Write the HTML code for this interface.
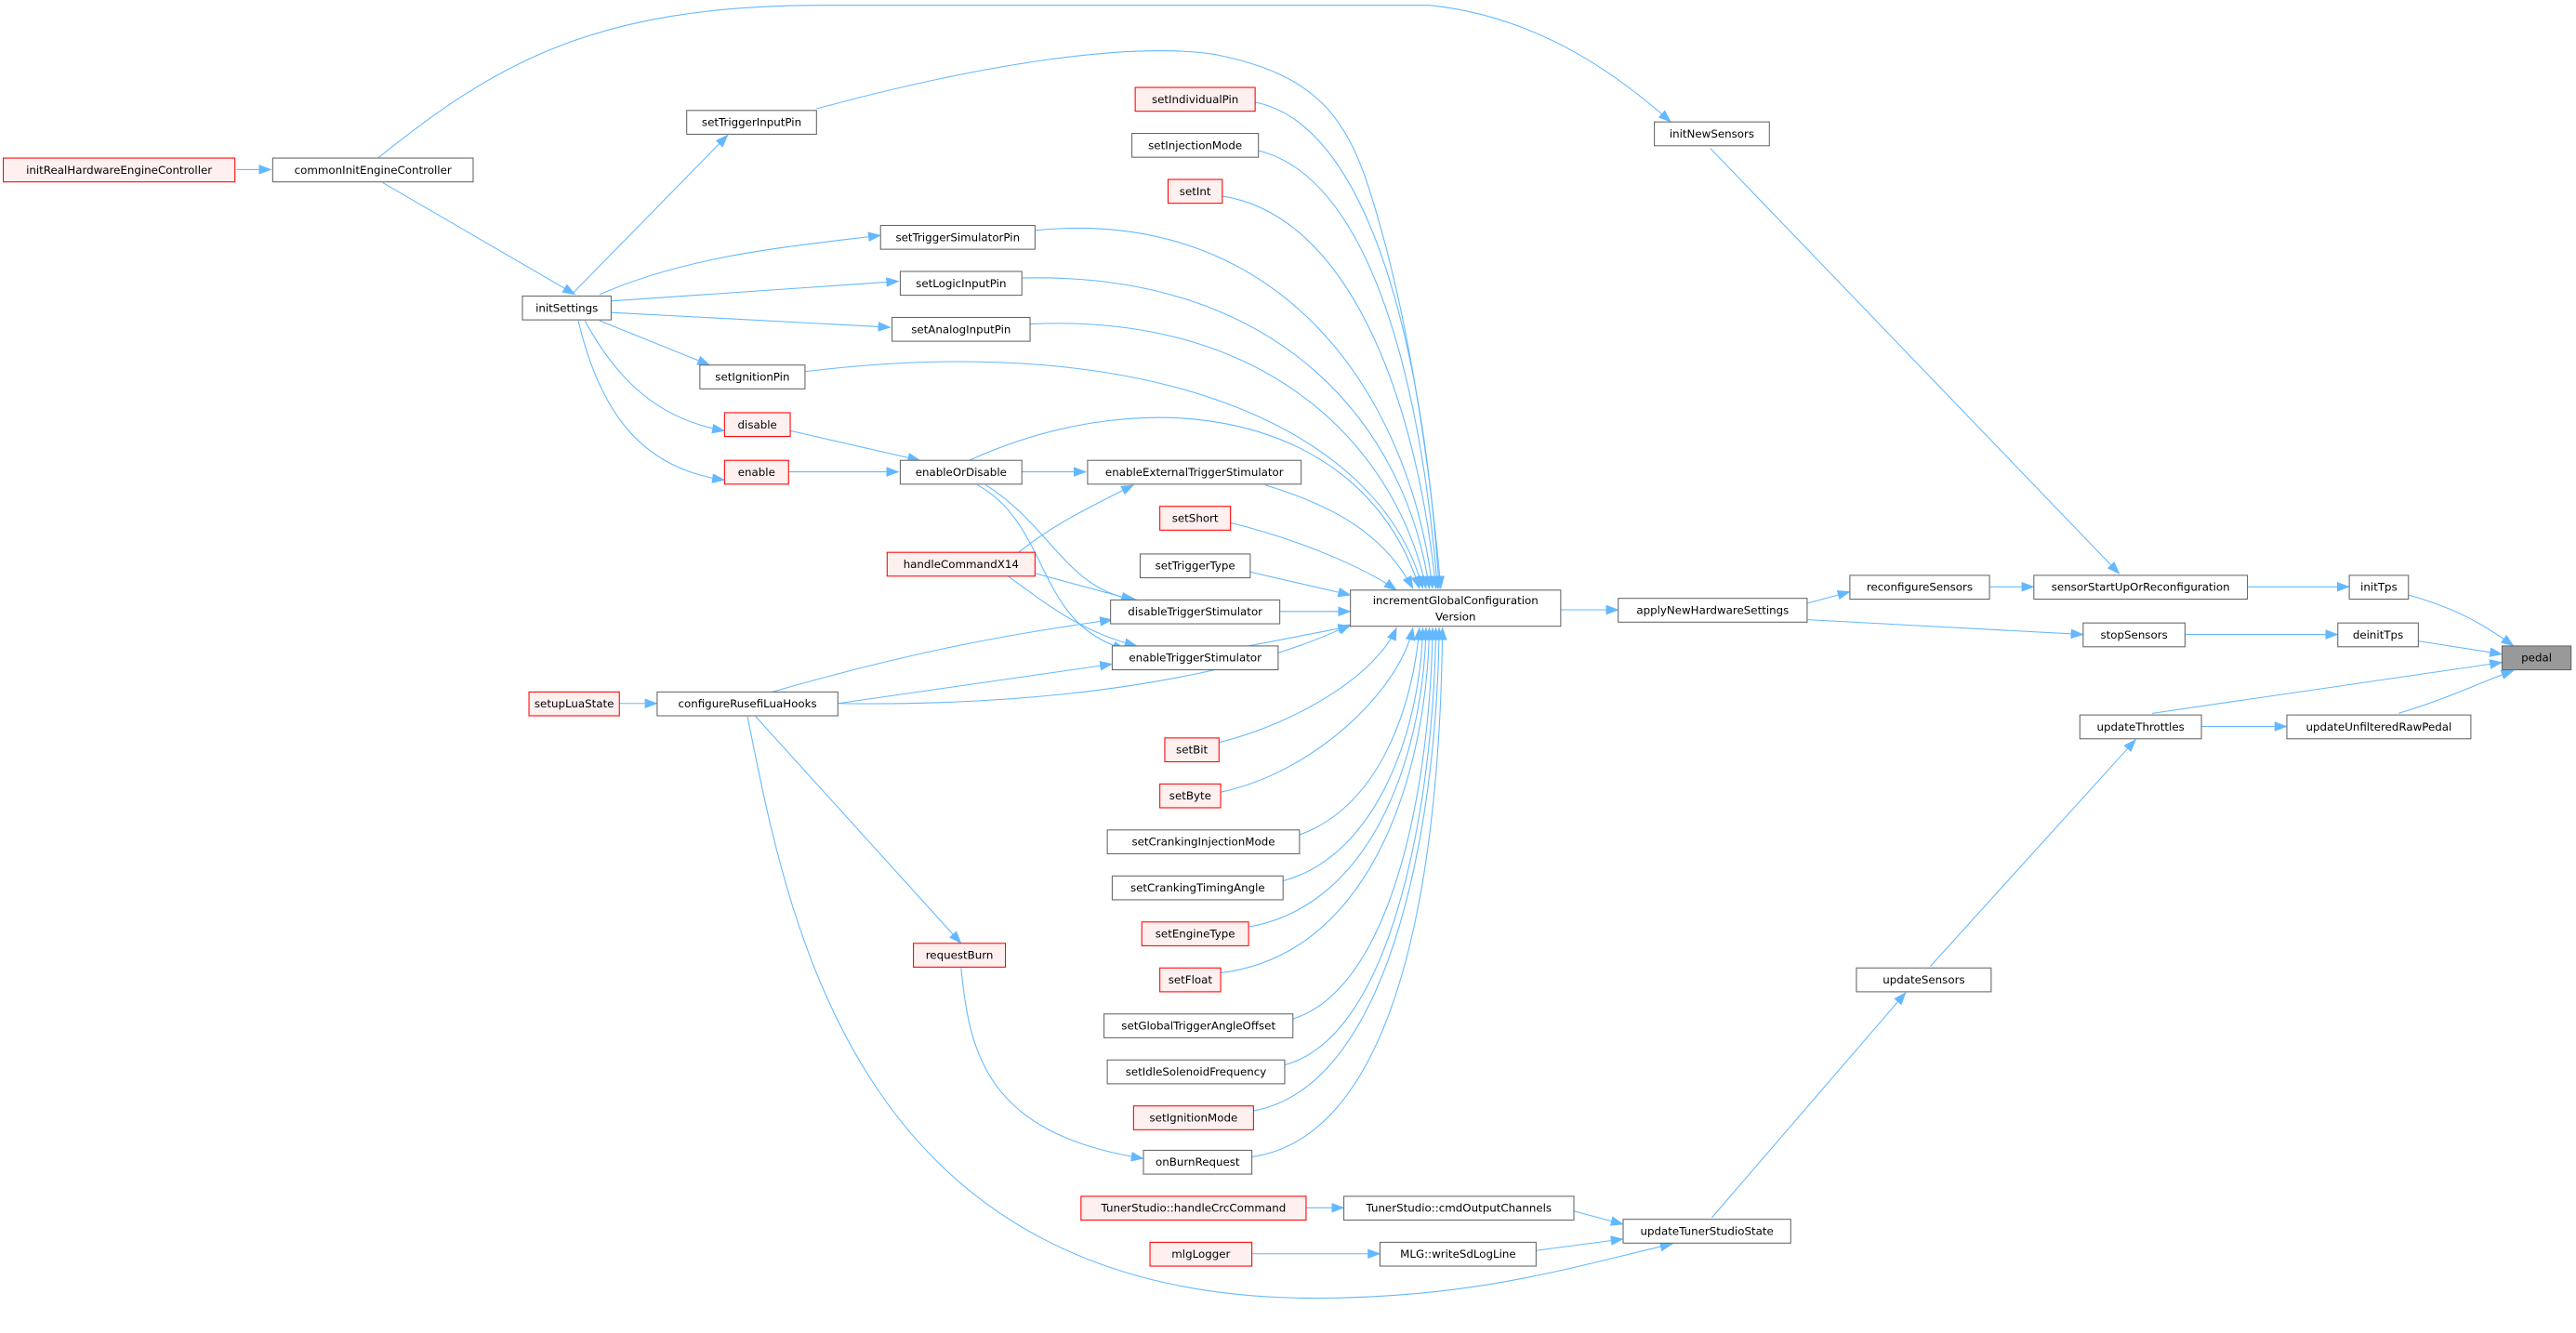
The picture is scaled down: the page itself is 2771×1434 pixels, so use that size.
<!DOCTYPE html>
<html><head><meta charset="utf-8"><style>
html,body{margin:0;padding:0;background:#fff;}
svg{display:block;}
text{font-family:"DejaVu Sans","Liberation Sans",sans-serif;font-size:6.7px;fill:#000;text-anchor:middle;}
.n{fill:#fff;stroke:#666;stroke-width:0.6;}
.r{fill:#fff0f0;stroke:#f00;stroke-width:0.6;}
.g{fill:#999;stroke:#666;stroke-width:0.6;}
.e{fill:none;stroke:#63b8ff;stroke-width:0.6;marker-end:url(#a);}
</style></head><body>
<svg width="2771" height="1434" viewBox="0 0 1568 811" xmlns="http://www.w3.org/2000/svg">
<defs><marker id="a" markerUnits="userSpaceOnUse" markerWidth="8" markerHeight="6" refX="7.5" refY="3" orient="auto"><path d="M0,0 L8,3 L0,6 z" fill="#63b8ff"/></marker></defs>
<g>
<path class="e" d="M144,103 L165,103"/>
<path class="e" d="M230,96 C300,40 360,3 500,3 L870,3 C940,10 990,50 1017,74"/>
<path class="e" d="M233,111 L350,179"/>
<path class="e" d="M348,179 L443,82"/>
<path class="e" d="M365,179 C420,155 480,150 536,143"/>
<path class="e" d="M372,183 L547,171"/>
<path class="e" d="M372,190 L542,199"/>
<path class="e" d="M365,195 L432,222"/>
<path class="e" d="M356,195 C375,230 400,255 441,262"/>
<path class="e" d="M352,195 C365,250 390,285 441,292"/>
<path class="e" d="M481,262 L560,280"/>
<path class="e" d="M480,287 L547,287"/>
<path class="e" d="M622,287 L661,287"/>
<path class="e" d="M600,295 C640,320 650,360 692,365"/>
<path class="e" d="M595,295 C640,320 630,380 685,395"/>
<path class="e" d="M620,336 C640,320 660,310 690,295"/>
<path class="e" d="M627,348 L690,365"/>
<path class="e" d="M613,350 C640,370 660,385 692,393"/>
<path class="e" d="M470,421 C560,395 620,385 677,377"/>
<path class="e" d="M510,428 L677,404"/>
<path class="e" d="M510,428 C650,430 760,410 822,380"/>
<path class="e" d="M377,428 L400,428"/>
<path class="e" d="M460,436 L585,574"/>
<path class="e" d="M585,589 C590,640 600,690 696,705"/>
<path class="e" d="M455,436 C480,560 520,790 800,790 C900,790 960,770 1018,757"/>
<path class="e" d="M958,737 L988,745"/>
<path class="e" d="M935,761 L988,754"/>
<path class="e" d="M795,735 L818,735"/>
<path class="e" d="M762,763 L840,763"/>
<path class="e" d="M1042,741 L1160,604"/>
<path class="e" d="M1175,588 L1300,450"/>
<path class="e" d="M1340,442 L1392,442"/>
<path class="e" d="M1310,434 L1523,403"/>
<path class="e" d="M1460,434 C1490,425 1510,415 1530,408"/>
<path class="e" d="M1466,362 C1495,370 1512,380 1530,393"/>
<path class="e" d="M1472,390 L1523,398"/>
<path class="e" d="M1330,386 L1423,386"/>
<path class="e" d="M1368,357 L1430,357"/>
<path class="e" d="M1211,357 L1238,357"/>
<path class="e" d="M1041,90 L1290,349"/>
<path class="e" d="M1100,367 L1126,360"/>
<path class="e" d="M1100,377 L1268,386"/>
<path class="e" d="M950,371 L985,371"/>
<path class="e" d="M497,66 C600,38 690,25 740,33 C800,45 820,70 835,120 C860,200 872,300 877,358"/>
<path class="e" d="M764,62 C830,75 866,200 876,358"/>
<path class="e" d="M764,91 C830,105 864,220 875,358"/>
<path class="e" d="M743,119 C820,130 862,240 874,358"/>
<path class="e" d="M630,140 C780,125 858,240 872,358"/>
<path class="e" d="M622,169 C780,165 856,260 870,358"/>
<path class="e" d="M627,197 C780,190 852,280 868,358"/>
<path class="e" d="M490,226 C700,200 840,260 866,358"/>
<path class="e" d="M590,280 C700,230 830,250 864,358"/>
<path class="e" d="M770,295 C820,310 845,330 860,358"/>
<path class="e" d="M749,318 C790,328 830,345 850,359"/>
<path class="e" d="M761,348 L822,362"/>
<path class="e" d="M779,372 L822,372"/>
<path class="e" d="M760,393 L822,381"/>
<path class="e" d="M741,452 C790,440 838,410 850,382"/>
<path class="e" d="M743,482 C800,470 852,420 860,382"/>
<path class="e" d="M791,508 C840,490 860,430 864,382"/>
<path class="e" d="M781,536 C840,520 865,440 866,382"/>
<path class="e" d="M760,564 C840,550 867,450 868,382"/>
<path class="e" d="M743,592 C840,580 869,460 870,382"/>
<path class="e" d="M787,620 C850,600 871,470 872,382"/>
<path class="e" d="M782,648 C850,630 873,480 874,382"/>
<path class="e" d="M763,676 C850,660 875,490 876,382"/>
<path class="e" d="M762,704 C860,690 877,500 878,382"/>
</g>
<g>
<rect class="r" x="2" y="96" width="141" height="14.5"/><text x="72.5" y="105.5">initRealHardwareEngineController</text>
<rect class="n" x="166" y="96" width="122" height="14.5"/><text x="227" y="105.5">commonInitEngineController</text>
<rect class="n" x="318" y="180" width="54" height="14.5"/><text x="345" y="189.5">initSettings</text>
<rect class="n" x="418" y="67" width="79" height="14.5"/><text x="457.5" y="76.5">setTriggerInputPin</text>
<rect class="r" x="691" y="53" width="73" height="14.5"/><text x="727.5" y="62.5">setIndividualPin</text>
<rect class="n" x="689" y="81" width="77" height="14.5"/><text x="727.5" y="90.5">setInjectionMode</text>
<rect class="r" x="711" y="109" width="33" height="14.5"/><text x="727.5" y="118.5">setInt</text>
<rect class="n" x="536" y="137" width="94" height="14.5"/><text x="583" y="146.5">setTriggerSimulatorPin</text>
<rect class="n" x="548" y="165" width="74" height="14.5"/><text x="585" y="174.5">setLogicInputPin</text>
<rect class="n" x="543" y="193" width="84" height="14.5"/><text x="585" y="202.5">setAnalogInputPin</text>
<rect class="n" x="426" y="222" width="64" height="14.5"/><text x="458" y="231.5">setIgnitionPin</text>
<rect class="r" x="441" y="251" width="40" height="14.5"/><text x="461" y="260.5">disable</text>
<rect class="r" x="441" y="280" width="39" height="14.5"/><text x="460.5" y="289.5">enable</text>
<rect class="n" x="548" y="280" width="74" height="14.5"/><text x="585" y="289.5">enableOrDisable</text>
<rect class="n" x="662" y="280" width="130" height="14.5"/><text x="727" y="289.5">enableExternalTriggerStimulator</text>
<rect class="r" x="706" y="308" width="43" height="14.5"/><text x="727.5" y="317.5">setShort</text>
<rect class="n" x="694" y="337" width="67" height="14.5"/><text x="727.5" y="346.5">setTriggerType</text>
<rect class="r" x="540" y="336" width="90" height="14.5"/><text x="585" y="345.5">handleCommandX14</text>
<rect class="n" x="822" y="359" width="128" height="22"/><text x="886" y="367.5">incrementGlobalConfiguration</text><text x="886" y="377.5">Version</text>
<rect class="n" x="676" y="365" width="103" height="14.5"/><text x="727.5" y="374.5">disableTriggerStimulator</text>
<rect class="n" x="677" y="393" width="101" height="14.5"/><text x="727.5" y="402.5">enableTriggerStimulator</text>
<rect class="n" x="400" y="421" width="110" height="14.5"/><text x="455" y="430.5">configureRusefiLuaHooks</text>
<rect class="r" x="322" y="421" width="55" height="14.5"/><text x="349.5" y="430.5">setupLuaState</text>
<rect class="r" x="709" y="449" width="33" height="14.5"/><text x="725.5" y="458.5">setBit</text>
<rect class="r" x="706" y="477" width="37" height="14.5"/><text x="724.5" y="486.5">setByte</text>
<rect class="n" x="674" y="505" width="117" height="14.5"/><text x="732.5" y="514.5">setCrankingInjectionMode</text>
<rect class="n" x="677" y="533" width="104" height="14.5"/><text x="729" y="542.5">setCrankingTimingAngle</text>
<rect class="r" x="695" y="561" width="65" height="14.5"/><text x="727.5" y="570.5">setEngineType</text>
<rect class="r" x="706" y="589" width="37" height="14.5"/><text x="724.5" y="598.5">setFloat</text>
<rect class="n" x="672" y="617" width="115" height="14.5"/><text x="729.5" y="626.5">setGlobalTriggerAngleOffset</text>
<rect class="n" x="674" y="645" width="108" height="14.5"/><text x="728" y="654.5">setIdleSolenoidFrequency</text>
<rect class="r" x="690" y="673" width="73" height="14.5"/><text x="726.5" y="682.5">setIgnitionMode</text>
<rect class="n" x="696" y="700" width="66" height="14.5"/><text x="729" y="709.5">onBurnRequest</text>
<rect class="r" x="556" y="574" width="56" height="14.5"/><text x="584" y="583.5">requestBurn</text>
<rect class="r" x="658" y="728" width="137" height="14.5"/><text x="726.5" y="737.5">TunerStudio::handleCrcCommand</text>
<rect class="n" x="818" y="728" width="140" height="14.5"/><text x="888" y="737.5">TunerStudio::cmdOutputChannels</text>
<rect class="r" x="700" y="756" width="62" height="14.5"/><text x="731" y="765.5">mlgLogger</text>
<rect class="n" x="840" y="756" width="95" height="14.5"/><text x="887.5" y="765.5">MLG::writeSdLogLine</text>
<rect class="n" x="988" y="742" width="102" height="14.5"/><text x="1039" y="751.5">updateTunerStudioState</text>
<rect class="n" x="1130" y="589" width="82" height="14.5"/><text x="1171" y="598.5">updateSensors</text>
<rect class="n" x="1266" y="435" width="74" height="14.5"/><text x="1303" y="444.5">updateThrottles</text>
<rect class="n" x="1392" y="435" width="112" height="14.5"/><text x="1448" y="444.5">updateUnfilteredRawPedal</text>
<rect class="n" x="985" y="364" width="115" height="14.5"/><text x="1042.5" y="373.5">applyNewHardwareSettings</text>
<rect class="n" x="1126" y="350" width="85" height="14.5"/><text x="1168.5" y="359.5">reconfigureSensors</text>
<rect class="n" x="1238" y="350" width="130" height="14.5"/><text x="1303" y="359.5">sensorStartUpOrReconfiguration</text>
<rect class="n" x="1268" y="379" width="62" height="14.5"/><text x="1299" y="388.5">stopSensors</text>
<rect class="n" x="1430" y="350" width="36" height="14.5"/><text x="1448" y="359.5">initTps</text>
<rect class="n" x="1423" y="379" width="49" height="14.5"/><text x="1447.5" y="388.5">deinitTps</text>
<rect class="g" x="1523" y="393" width="42" height="14.5"/><text x="1544" y="402.5">pedal</text>
<rect class="n" x="1007" y="74" width="70" height="14.5"/><text x="1042" y="83.5">initNewSensors</text>
</g>
</svg>
</body></html>
